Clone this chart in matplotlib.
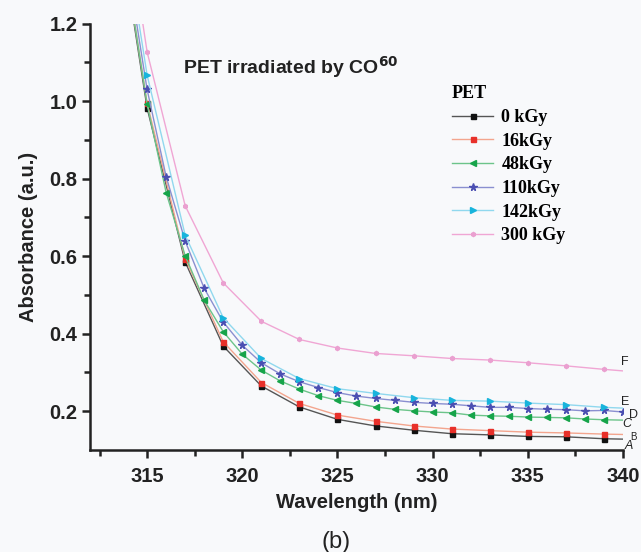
import matplotlib.pyplot as plt
import numpy as np

# wavelengths (nm) of the readings
wl_odd = [314, 315, 317, 319, 321, 323, 325, 327, 329, 331, 333, 335, 337, 339, 340]
wl_all = list(range(314, 341))

# absorbance readings, A..F
abs_0 = [1.30, 0.982, 0.585, 0.368, 0.265, 0.211, 0.179, 0.162, 0.151, 0.142, 0.139,
         0.135, 0.134, 0.129, 0.128]
abs_16 = [1.31, 0.995, 0.593, 0.379, 0.274, 0.220, 0.190, 0.174, 0.162, 0.154, 0.150,
          0.146, 0.144, 0.141, 0.140]
abs_48 = [1.31, 0.992, 0.764, 0.601, 0.486, 0.405, 0.347, 0.306, 0.278, 0.257, 0.240,
          0.228, 0.220, 0.211, 0.205, 0.201, 0.198, 0.196, 0.190, 0.188, 0.187, 0.185,
          0.184, 0.183, 0.180, 0.178, 0.177]
abs_110 = [1.34, 1.030, 0.805, 0.639, 0.517, 0.430, 0.370, 0.325, 0.296, 0.276, 0.261,
           0.248, 0.239, 0.233, 0.228, 0.223, 0.220, 0.218, 0.214, 0.210, 0.210, 0.207,
           0.205, 0.204, 0.201, 0.202, 0.198]
abs_142 = [1.38, 1.067, 0.654, 0.441, 0.336, 0.284, 0.258, 0.246, 0.235, 0.228, 0.226,
           0.221, 0.217, 0.210, 0.208]
abs_300 = [1.45, 1.127, 0.730, 0.531, 0.432, 0.385, 0.363, 0.349, 0.343, 0.336, 0.332,
           0.325, 0.317, 0.308, 0.304]

labels = ["0 kGy", "16kGy", "48kGy", "110kGy", "142kGy", "300 kGy"]
letters = ["A", "B", "C", "D", "E", "F"]

INK = "#222222"

fig = plt.figure(figsize=(6.41, 5.52), dpi=100)
fig.patch.set_facecolor("#f8f9fb")
ax = fig.add_axes([0.1404, 0.1848, 0.8315, 0.7726])
ax.set_facecolor("#f8f9fb")

odd_marks = list(range(1, len(wl_odd) - 1))
all_marks = list(range(1, len(wl_all)))

series = [
    (wl_odd, abs_0, "#111111", "#555555", "s", 3.6, odd_marks),
    (wl_odd, abs_16, "#e8302a", "#f3a58e", "s", 3.6, odd_marks),
    (wl_all, abs_48, "#16a44a", "#6cc48a", "<", 4.4, all_marks[:-1]),
    (wl_all, abs_110, "#4b4fb2", "#8a8fd0", "*", 5.4, all_marks),
    (wl_odd, abs_142, "#18b4dc", "#90d8ee", ">", 4.4, odd_marks),
    (wl_odd, abs_300, "#eaa0d0", "#f0a6d4", "h", 3.0, odd_marks),
]
for (x, y, mc, lc, mk, ms, me), lab in zip(series, labels):
    ax.plot(x, y, color=lc, lw=1.0, marker=mk, ms=ms, mfc=mc, mec=mc,
            markevery=me, label=lab)

# curve letters at the right end
letter_pos = [(340.3, 0.110), (340.55, 0.134), (340.2, 0.166),
              (340.55, 0.190), (340.1, 0.224), (340.1, 0.327)]
for (lx, ly), t in zip(letter_pos, letters):
    fs = 7 if t == "B" else 9
    ax.text(lx, ly, t, fontsize=fs, color=INK, ha="center", va="center",
            family="Liberation Sans", style="italic" if t in "AC" else "normal",
            clip_on=False)

ax.set_xlim(312, 340)
ax.set_ylim(0.1, 1.2)
ax.set_xticks([315, 320, 325, 330, 335, 340])
ax.set_xticks(np.arange(312.5, 340, 5), minor=True)
ax.set_yticks([0.2, 0.4, 0.6, 0.8, 1.0, 1.2])
ax.set_yticks([0.3, 0.5, 0.7, 0.9, 1.1], minor=True)
ax.set_yticklabels(["0.2", "0.4", "0.6", "0.8", "1.0", "1.2"])

for s in ["top", "right"]:
    ax.spines[s].set_visible(False)
for s in ["left", "bottom"]:
    ax.spines[s].set_linewidth(1.8)
    ax.spines[s].set_color(INK)
ax.tick_params(which="major", direction="out", length=6, width=1.8, color=INK)
ax.tick_params(which="minor", direction="out", length=4, width=1.8, color=INK)
ax.tick_params(axis="x", pad=6)
ax.tick_params(axis="y", pad=3)
for t in ax.get_xticklabels() + ax.get_yticklabels():
    t.set_fontfamily("Liberation Sans")
    t.set_fontweight("bold")
    t.set_fontsize(14.5)
    t.set_color(INK)

ax.set_xlabel("Wavelength (nm)", fontsize=14.5, fontweight="bold",
              family="Liberation Sans", labelpad=5, color=INK)
ax.set_ylabel("Absorbance (a.u.)", fontsize=14.5, fontweight="bold",
              family="Liberation Sans", labelpad=8, color=INK)

ax.text(0.174, 0.882, r"PET irradiated by CO$^{\mathbf{60}}$", transform=ax.transAxes,
        fontsize=14, fontweight="bold", family="Liberation Sans", color=INK)
fig.text(0.525, 0.008, "(b)", fontsize=17, family="Liberation Sans",
         ha="center", color=INK)

leg = ax.legend(loc="upper left", bbox_to_anchor=(0.655, 0.885), frameon=False,
                title="PET", prop={"family": "Liberation Serif", "weight": "bold", "size": 13},
                handlelength=2.3, handletextpad=0.45, labelspacing=0.37,
                borderpad=0.2, alignment="left")
leg.get_title().set_fontfamily("Liberation Serif")
leg.get_title().set_fontweight("bold")
leg.get_title().set_fontsize(13)

fig.savefig("out.png", dpi=100, facecolor=fig.get_facecolor())
